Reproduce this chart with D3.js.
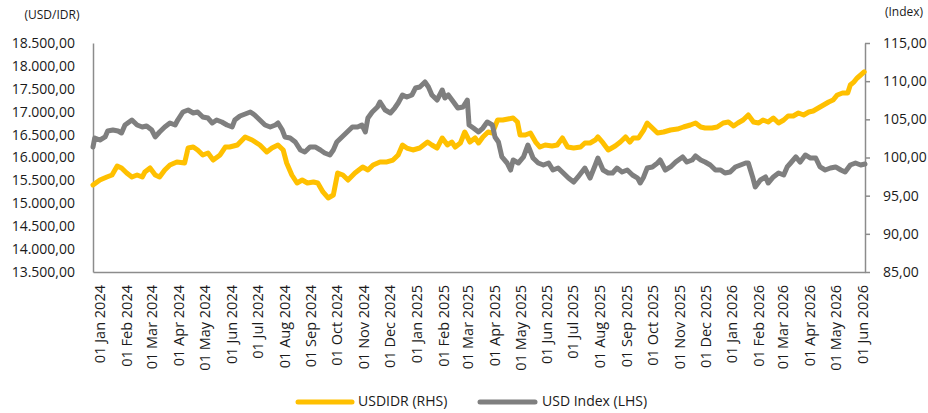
<!DOCTYPE html>
<html>
<head>
<meta charset="utf-8">
<script src="https://cdn.jsdelivr.net/npm/d3@7"></script>
<style>
  html, body { margin: 0; padding: 0; background: #fff; }
  svg { display: block; font-family: "Open Sans", sans-serif; }
</style>
</head>
<body>
<svg id="chart" width="928" height="413"></svg>
<script>
// ---------------- DATA ----------------
const idrDates = ["2023-12-24","2024-01-01","2024-01-09","2024-01-15","2024-01-21","2024-01-26","2024-02-01","2024-02-07","2024-02-13","2024-02-19","2024-02-22","2024-02-28","2024-03-05","2024-03-10","2024-03-16","2024-03-22","2024-03-30","2024-04-08","2024-04-12","2024-04-18","2024-04-23","2024-04-29","2024-05-05","2024-05-11","2024-05-19","2024-05-25","2024-05-30","2024-06-08","2024-06-17","2024-06-25","2024-07-04","2024-07-12","2024-07-18","2024-07-25","2024-07-31","2024-08-04","2024-08-10","2024-08-16","2024-08-22","2024-08-28","2024-09-04","2024-09-09","2024-09-15","2024-09-21","2024-09-27","2024-10-02","2024-10-08","2024-10-14","2024-10-22","2024-10-31","2024-11-06","2024-11-12","2024-11-20","2024-11-28","2024-12-05","2024-12-11","2024-12-16","2024-12-21","2024-12-28","2025-01-05","2025-01-14","2025-01-19","2025-01-25","2025-01-31","2025-02-06","2025-02-11","2025-02-15","2025-02-21","2025-02-26","2025-03-04","2025-03-10","2025-03-14","2025-03-19","2025-03-25","2025-03-30","2025-04-05","2025-04-11","2025-04-17","2025-04-23","2025-04-28","2025-05-01","2025-05-07","2025-05-13","2025-05-19","2025-05-24","2025-05-30","2025-06-07","2025-06-13","2025-06-19","2025-06-25","2025-07-02","2025-07-10","2025-07-15","2025-07-21","2025-07-27","2025-07-30","2025-08-05","2025-08-11","2025-08-19","2025-08-25","2025-08-31","2025-09-05","2025-09-09","2025-09-15","2025-09-21","2025-09-25","2025-10-01","2025-10-07","2025-10-14","2025-10-22","2025-10-30","2025-11-06","2025-11-14","2025-11-20","2025-11-26","2025-12-01","2025-12-09","2025-12-15","2025-12-22","2025-12-28","2026-01-03","2026-01-08","2026-01-14","2026-01-20","2026-01-26","2026-02-01","2026-02-06","2026-02-12","2026-02-18","2026-02-24","2026-03-02","2026-03-07","2026-03-13","2026-03-19","2026-03-25","2026-03-31","2026-04-05","2026-04-11","2026-04-17","2026-04-23","2026-04-28","2026-05-03","2026-05-09","2026-05-15","2026-05-18","2026-05-22","2026-05-26","2026-05-30","2026-06-03"];
const idrValues = [15400,15509,15574,15618,15814,15771,15662,15574,15618,15574,15683,15771,15618,15574,15727,15836,15902,15880,16207,16229,16164,16055,16098,15945,16055,16229,16229,16273,16448,16382,16273,16120,16207,16273,16164,15880,15618,15443,15509,15443,15465,15443,15247,15116,15181,15662,15618,15509,15662,15793,15727,15836,15902,15902,15945,16055,16273,16207,16164,16207,16338,16273,16207,16426,16273,16338,16229,16317,16557,16338,16426,16317,16448,16557,16535,16819,16819,16841,16862,16775,16491,16491,16535,16338,16229,16273,16251,16273,16426,16229,16207,16229,16317,16317,16382,16448,16317,16164,16251,16338,16448,16338,16426,16426,16600,16753,16644,16535,16557,16600,16622,16666,16710,16753,16666,16644,16644,16666,16753,16775,16688,16753,16819,16928,16775,16753,16819,16775,16862,16753,16819,16906,16906,16972,16928,16993,17015,17081,17146,17212,17255,17365,17408,17408,17583,17648,17736,17801,17867];

const dxyDates = ["2023-12-24","2023-12-26","2024-01-01","2024-01-07","2024-01-10","2024-01-16","2024-01-22","2024-01-26","2024-01-30","2024-02-07","2024-02-13","2024-02-19","2024-02-24","2024-03-01","2024-03-05","2024-03-10","2024-03-16","2024-03-22","2024-03-28","2024-03-31","2024-04-06","2024-04-12","2024-04-18","2024-04-23","2024-04-29","2024-05-05","2024-05-10","2024-05-15","2024-05-21","2024-05-27","2024-06-02","2024-06-05","2024-06-11","2024-06-17","2024-06-23","2024-06-28","2024-07-04","2024-07-10","2024-07-16","2024-07-22","2024-07-25","2024-07-30","2024-08-02","2024-08-08","2024-08-14","2024-08-20","2024-08-25","2024-08-31","2024-09-06","2024-09-12","2024-09-17","2024-09-23","2024-09-27","2024-10-01","2024-10-07","2024-10-13","2024-10-19","2024-10-25","2024-10-30","2024-11-03","2024-11-06","2024-11-11","2024-11-17","2024-11-20","2024-11-26","2024-12-02","2024-12-07","2024-12-11","2024-12-16","2024-12-21","2024-12-27","2024-12-31","2025-01-05","2025-01-11","2025-01-15","2025-01-19","2025-01-25","2025-01-31","2025-02-03","2025-02-07","2025-02-13","2025-02-18","2025-02-24","2025-03-01","2025-03-03","2025-03-08","2025-03-14","2025-03-19","2025-03-24","2025-03-30","2025-04-02","2025-04-06","2025-04-10","2025-04-16","2025-04-20","2025-04-23","2025-04-29","2025-05-05","2025-05-10","2025-05-16","2025-05-22","2025-05-28","2025-06-03","2025-06-08","2025-06-14","2025-06-20","2025-06-26","2025-07-02","2025-07-07","2025-07-15","2025-07-21","2025-07-27","2025-07-30","2025-08-05","2025-08-11","2025-08-16","2025-08-21","2025-08-27","2025-09-02","2025-09-08","2025-09-14","2025-09-17","2025-09-21","2025-09-25","2025-10-01","2025-10-07","2025-10-10","2025-10-16","2025-10-22","2025-10-28","2025-11-05","2025-11-10","2025-11-16","2025-11-20","2025-11-26","2025-12-01","2025-12-07","2025-12-13","2025-12-19","2025-12-24","2025-12-30","2026-01-05","2026-01-11","2026-01-17","2026-01-20","2026-01-25","2026-01-28","2026-02-03","2026-02-09","2026-02-12","2026-02-18","2026-02-24","2026-03-02","2026-03-06","2026-03-10","2026-03-16","2026-03-21","2026-03-27","2026-04-02","2026-04-08","2026-04-13","2026-04-19","2026-04-25","2026-05-01","2026-05-07","2026-05-12","2026-05-18","2026-05-24","2026-05-30","2026-06-04"];
const dxyValues = [101.38,102.55,102.29,102.69,103.47,103.60,103.47,103.21,104.26,104.91,104.26,104.00,104.13,103.60,102.69,103.34,104.00,104.52,104.26,104.91,105.96,106.22,105.83,105.96,105.31,105.17,104.52,104.91,104.65,104.26,104.00,104.91,105.44,105.70,105.96,105.57,104.91,104.26,104.00,104.26,104.52,103.60,102.69,102.55,102.03,100.98,100.72,101.38,101.38,100.98,100.59,100.33,100.98,102.03,102.69,103.34,104.00,104.00,104.26,103.34,105.17,105.96,106.62,107.27,106.22,105.83,106.48,107.14,108.19,107.93,108.19,109.10,109.24,109.89,109.24,108.19,107.53,108.84,107.79,108.19,107.27,106.48,106.62,107.53,104.26,103.86,103.34,103.86,104.65,104.26,102.69,102.03,100.07,99.28,98.36,99.67,99.28,100.07,101.64,99.93,99.28,99.02,99.28,98.36,98.62,97.97,97.31,96.79,97.45,98.62,97.31,99.02,99.93,98.36,97.97,97.97,98.62,98.10,98.36,97.71,97.31,96.66,97.45,98.62,98.76,99.28,99.67,98.36,98.76,99.41,100.07,99.41,99.67,100.20,99.67,99.41,99.02,98.36,98.36,97.97,98.10,98.76,99.02,99.28,99.28,97.45,96.14,97.05,97.45,96.66,97.45,97.97,97.71,98.76,99.28,100.07,99.41,100.33,99.93,99.93,98.76,98.36,98.62,98.76,98.36,98.10,99.02,99.28,99.02,99.15];

const leftTicks = [13500,14000,14500,15000,15500,16000,16500,17000,17500,18000,18500];
const rightTicks = [85,90,95,100,105,110,115];
const xTickDates = ["2024-01-01","2024-02-01","2024-03-01","2024-04-01","2024-05-01","2024-06-01","2024-07-01","2024-08-01","2024-09-01","2024-10-01","2024-11-01","2024-12-01","2025-01-01","2025-02-01","2025-03-01","2025-04-01","2025-05-01","2025-06-01","2025-07-01","2025-08-01","2025-09-01","2025-10-01","2025-11-01","2025-12-01","2026-01-01","2026-02-01","2026-03-01","2026-04-01","2026-05-01","2026-06-01"];
const xDomain = ["2023-12-24","2026-06-04"];
const seriesNames = ["USDIDR (RHS)", "USD Index (LHS)"];
const seriesColors = ["#FFC000", "#7F7F7F"];
const axisTitles = ["(USD/IDR)", "(Index)"];

// ---------------- CHART ----------------
const parse = d3.timeParse("%Y-%m-%d");
const locale = d3.formatLocale({decimal: ",", thousands: ".", grouping: [3], currency: ["", ""]});
const fmt = locale.format(",.2f");
const fmtDate = d3.timeFormat("%d %b %Y");

const L = 93, R = 865, T = 43, B = 272;
const svg = d3.select("#chart");

const x = d3.scaleTime().domain(xDomain.map(parse)).range([L, R]);
const yL = d3.scaleLinear().domain([13500, 18500]).range([B, T]);
const yR = d3.scaleLinear().domain([85, 115]).range([B, T]);

const axisColor = "#8C8C8C";
const textColor = "#1a1a1a";

// left axis
const gL = svg.append("g").attr("transform", `translate(${L},0)`)
  .call(d3.axisLeft(yL).tickValues(leftTicks).tickSize(0).tickPadding(18).tickFormat(fmt));
gL.select(".domain").attr("stroke", axisColor).attr("stroke-width", 1.5);
gL.selectAll("text").attr("font-size", 14).attr("fill", textColor).attr("font-family", "Open Sans");

// right axis
const gR = svg.append("g").attr("transform", `translate(${R},0)`)
  .call(d3.axisRight(yR).tickValues(rightTicks).tickSizeInner(5).tickSizeOuter(0).tickPadding(13).tickFormat(fmt));
gR.select(".domain").attr("stroke", axisColor).attr("stroke-width", 1.5);
gR.selectAll(".tick line").attr("stroke", axisColor).attr("stroke-width", 1.5);
gR.selectAll("text").attr("font-size", 14).attr("fill", textColor).attr("font-family", "Open Sans");

// bottom axis
const gB = svg.append("g").attr("transform", `translate(0,${B})`)
  .call(d3.axisBottom(x).tickValues(xTickDates.map(parse)).tickSize(0).tickFormat(fmtDate));
gB.select(".domain").attr("stroke", axisColor).attr("stroke-width", 1.5);
gB.selectAll("text")
  .attr("font-size", 14.5).attr("fill", textColor).attr("font-family", "Open Sans")
  .attr("transform", "rotate(-90)")
  .attr("text-anchor", "end")
  .attr("x", -13).attr("y", 0).attr("dy", "0.35em");

// axis titles
svg.append("text").attr("x", 52).attr("y", 16).attr("text-anchor", "middle")
  .attr("dominant-baseline", "middle").attr("font-size", 12).attr("fill", textColor).text(axisTitles[0]);
svg.append("text").attr("x", 904).attr("y", 13).attr("text-anchor", "middle")
  .attr("dominant-baseline", "middle").attr("font-size", 12).attr("fill", textColor).text(axisTitles[1]);

// lines
const idr = idrDates.map((d, i) => ({date: parse(d), v: idrValues[i]}));
const dxy = dxyDates.map((d, i) => ({date: parse(d), v: dxyValues[i]}));

const lineL = d3.line().x(d => x(d.date)).y(d => yL(d.v));
const lineR = d3.line().x(d => x(d.date)).y(d => yR(d.v));

svg.append("path").datum(idr).attr("d", lineL)
  .attr("fill", "none").attr("stroke", seriesColors[0]).attr("stroke-width", 5)
  .attr("stroke-linejoin", "round").attr("stroke-linecap", "round");
svg.append("path").datum(dxy).attr("d", lineR)
  .attr("fill", "none").attr("stroke", seriesColors[1]).attr("stroke-width", 5)
  .attr("stroke-linejoin", "round").attr("stroke-linecap", "round");

// legend
const legendItems = [
  {x1: 298, x2: 352, tx: 358},
  {x1: 480, x2: 535, tx: 542}
];
legendItems.forEach((it, i) => {
  svg.append("line").attr("x1", it.x1).attr("x2", it.x2).attr("y1", 402).attr("y2", 402)
    .attr("stroke", seriesColors[i]).attr("stroke-width", 5).attr("stroke-linecap", "round");
  svg.append("text").attr("x", it.tx).attr("y", 402).attr("dominant-baseline", "middle")
    .attr("font-size", 14).attr("fill", textColor).text(seriesNames[i]);
});
</script>
</body>
</html>
